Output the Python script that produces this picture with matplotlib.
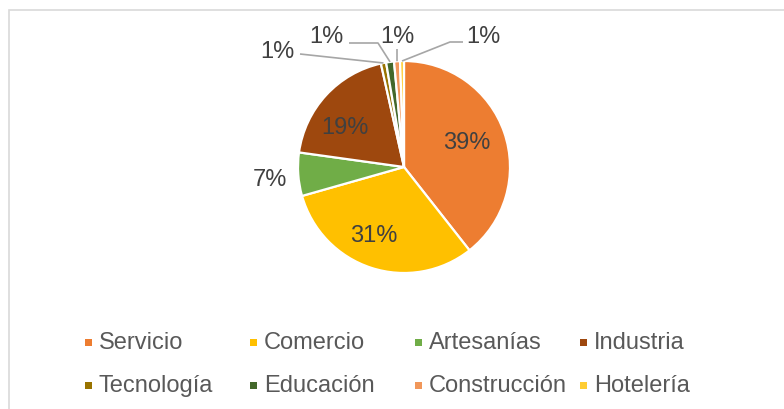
import numpy as np
import matplotlib
matplotlib.use("Agg")
import matplotlib.pyplot as plt
from matplotlib.patches import Rectangle

plt.rcParams['font.family'] = ['Liberation Sans', 'DejaVu Sans']

# datos (porcentajes)
sectores = ["Servicio", "Comercio", "Artesanías", "Industria",
            "Tecnología", "Educación", "Construcción", "Hotelería"]
valores = [39.4, 31.2, 6.6, 19.3, 0.8, 1.2, 0.9, 0.6]
colores = ["#ED7D31", "#FFC000", "#70AD47", "#9E480E",
           "#997300", "#43682B", "#F1975A", "#FFCD33"]

W, H = 784, 410
fig = plt.figure(figsize=(W / 100, H / 100), dpi=100)

# borde gris del área del gráfico
fig.patches.append(Rectangle((8.5 / W, -0.05), 1.2, (H - 11) / H + 0.05,
                             transform=fig.transFigure, fill=False,
                             edgecolor="#d9d9d9", linewidth=1.2))

# eje del pastel: centro (404,168) px, radio 106 px
R = 106
cx, cy = 404, 168
lim = 1.4
ax = fig.add_axes([(cx - lim * R) / W, (H - cy - lim * R) / H,
                   2 * lim * R / W, 2 * lim * R / H])

wedges, _ = ax.pie(valores, colors=colores, startangle=90, counterclock=False,
                   radius=1, wedgeprops=dict(edgecolor="white", linewidth=1.6))
ax.set_xlim(-lim, lim)
ax.set_ylim(-lim, lim)
ax.axis("off")

def px2d(px, py):
    return (px - cx) / R, (cy - py) / R

etiquetas = ["%.0f%%" % v for v in valores]

# posiciones de las etiquetas (px) como en el original
pos_txt = [(467, 143), (374, 236), (270, 180), (345, 128),
           (277, 52), (326, 37), (397, 37), (483, 37)]
codos = [[(300, 55)], [(349, 44), (378, 44)], [(397, 50)], [(463, 43), (450, 43)]]

for i, w in enumerate(wedges):
    tx, ty = px2d(*pos_txt[i])
    ax.text(tx, ty, etiquetas[i], ha="center", va="center",
            fontsize=17, color="#404040")
    if i >= 4:
        # línea guía hasta el borde de la porción
        ang = np.deg2rad((w.theta1 + w.theta2) / 2)
        ex, ey = np.cos(ang), np.sin(ang)
        pts = [px2d(*p) for p in codos[i - 4]] + [(ex, ey)]
        ax.plot([p[0] for p in pts], [p[1] for p in pts], color="#a6a6a6",
                linewidth=1.2, solid_capstyle="butt")

# leyenda manual en dos filas
x0, paso = 85, 165
filas_y = [343.5, 386.5]
for i, (s, c) in enumerate(zip(sectores, colores)):
    fila, col = divmod(i, 4)
    x = x0 + col * paso
    y = filas_y[fila]
    fig.patches.append(Rectangle((x / W, (H - y - 3.5) / H), 7 / W, 7 / H,
                                 transform=fig.transFigure, facecolor=c,
                                 edgecolor="none"))
    fig.text((x + 14) / W, (H - y) / H, s, ha="left", va="center",
             fontsize=17, color="#595959")

fig.savefig("out.png", dpi=100)
